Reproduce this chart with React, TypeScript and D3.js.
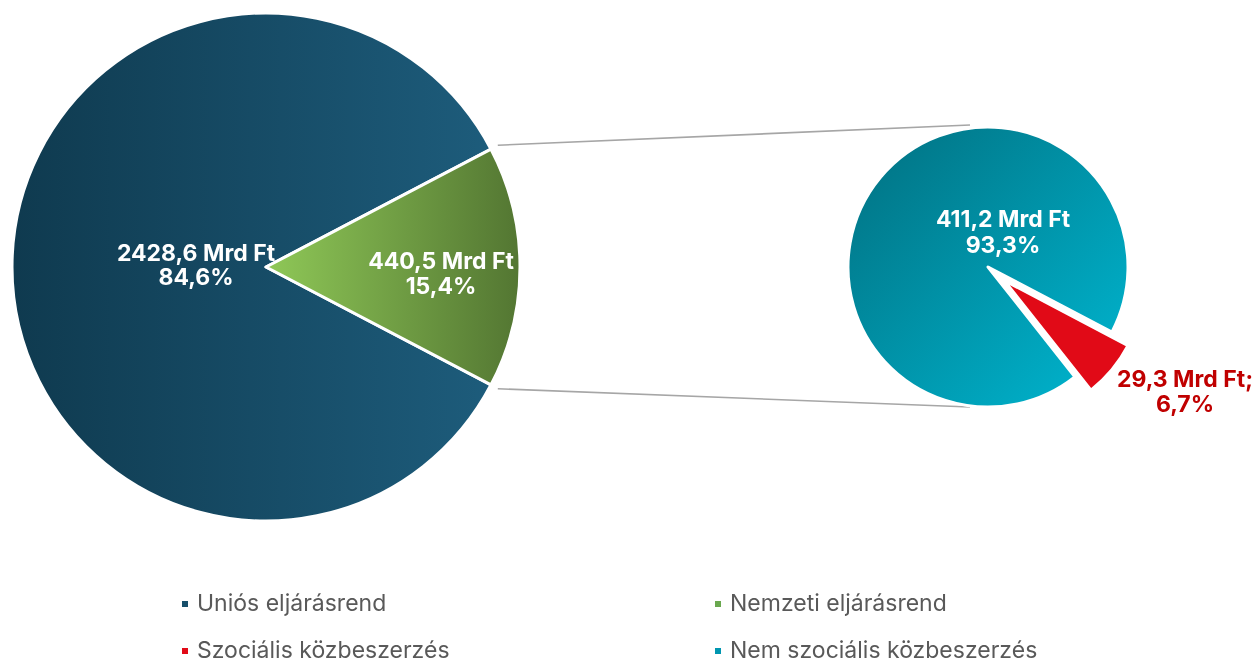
import React from "react";
import * as d3 from "d3";

const mainCategories = ["Uniós eljárásrend", "Nemzeti eljárásrend"];
const mainValues = [2428.6, 440.5];
const mainLabels = ["2428,6 Mrd Ft", "440,5 Mrd Ft"];
const mainPercents = ["84,6%", "15,4%"];

const subCategories = ["Nem szociális közbeszerzés", "Szociális közbeszerzés"];
const subValues = [411.2, 29.3];
const subLabels = ["411,2 Mrd Ft", "29,3 Mrd Ft;"];
const subPercents = ["93,3%", "6,7%"];

const legendItems = ["Uniós eljárásrend", "Nemzeti eljárásrend", "Szociális közbeszerzés", "Nem szociális közbeszerzés"];
const legendColors = ["#174f6b", "#6aa84f", "#e10a17", "#0096b0"];

const W = 1256, H = 663;
const FONT = "Inter, 'Noto Sans', sans-serif";

function TwoLine({ x, y, dy, lines, fill, size }: { x: number; y: number; dy: number; lines: string[]; fill: string; size: number }) {
  return (
    <text x={x} y={y} textAnchor="middle" fill={fill} fontWeight={700} fontSize={size}>
      <tspan x={x} y={y}>{lines[0]}</tspan>
      <tspan x={x} dy={dy}>{lines[1]}</tspan>
    </text>
  );
}

export default function App() {
  // main pie
  const cx = 266, cy = 267, r = 254;
  const mainTotal = d3.sum(mainValues);
  const greenSpan = (mainValues[1] / mainTotal) * 2 * Math.PI;
  const greenStart = Math.PI / 2 - greenSpan / 2;
  const mainPie = d3.pie<number>().sort(null).startAngle(greenStart + greenSpan).endAngle(greenStart + greenSpan + 2 * Math.PI);
  const mainArcs = mainPie(mainValues);
  const arcMain = d3.arc<d3.PieArcDatum<number>>().innerRadius(0).outerRadius(r);

  // sub pie
  const sx = 988, sy = 267, sr = 140;
  const subTotal = d3.sum(subValues);
  const redSpan = (subValues[1] / subTotal) * 2 * Math.PI;
  const redMid = Math.PI / 2 + (39.7 * Math.PI) / 180;
  const redStart = redMid - redSpan / 2;
  const subPie = d3.pie<number>().sort(null).startAngle(redStart + redSpan).endAngle(redStart + redSpan + 2 * Math.PI);
  const subArcs = subPie(subValues);
  const arcSub = d3.arc<d3.PieArcDatum<number>>().innerRadius(0).outerRadius(sr);
  const explode = 21;

  // connector lines
  const gTop = [cx + (r + 2) * Math.sin(greenStart), cy - (r + 2) * Math.cos(greenStart)];
  const gBot = [cx + (r + 2) * Math.sin(greenStart + greenSpan), cy - (r + 2) * Math.cos(greenStart + greenSpan)];
  const lineTop = [[gTop[0] + 5, gTop[1] - 3], [sx - 18, sy - 142]];
  const lineBot = [[gBot[0] + 5, gBot[1] + 3], [sx - 18, sy + 140]];

  const legendX = [182, 715];
  const legendY = [604, 651];
  const lblSize = 23;

  return (
    <div style={{ position: "fixed", left: 0, top: 0 }}>
      <svg width={W} height={H} style={{ display: "block" }} fontFamily={FONT}>
        <defs>
          <linearGradient id="gBlue" gradientUnits="userSpaceOnUse" x1={-r} y1={0} x2={r} y2={0}>
            <stop offset="0" stopColor="#0f3a4f" />
            <stop offset="1" stopColor="#1e5e7e" />
          </linearGradient>
          <linearGradient id="gGreen" gradientUnits="userSpaceOnUse" x1={0} y1={0} x2={r} y2={0}>
            <stop offset="0" stopColor="#8fc857" />
            <stop offset="1" stopColor="#537632" />
          </linearGradient>
          <linearGradient id="gTeal" gradientUnits="userSpaceOnUse" x1={-sr * 0.7} y1={-sr * 0.7} x2={sr * 0.7} y2={sr * 0.7}>
            <stop offset="0" stopColor="#017a8c" />
            <stop offset="1" stopColor="#00adc6" />
          </linearGradient>
        </defs>

        <line x1={lineTop[0][0]} y1={lineTop[0][1]} x2={lineTop[1][0]} y2={lineTop[1][1]} stroke="#a6a6a6" strokeWidth={1.6} />
        <line x1={lineBot[0][0]} y1={lineBot[0][1]} x2={lineBot[1][0]} y2={lineBot[1][1]} stroke="#a6a6a6" strokeWidth={1.6} />

        <g transform={`translate(${cx},${cy})`}>
          {mainArcs.map((a, i) => (
            <path key={i} d={arcMain(a) || ""} fill={i === 0 ? "url(#gBlue)" : "url(#gGreen)"} stroke="#fff" strokeWidth={3} strokeLinejoin="round" />
          ))}
        </g>

        <g>
          {subArcs.map((a, i) => {
            const mid = (a.startAngle + a.endAngle) / 2;
            const off = i === 1 ? explode : 0;
            const tx = sx + off * Math.sin(mid);
            const ty = sy - off * Math.cos(mid);
            return (
              <path key={i} d={arcSub(a) || ""} transform={`translate(${tx},${ty})`}
                fill={i === 0 ? "url(#gTeal)" : "#e10a17"} stroke="#fff" strokeWidth={3} strokeLinejoin="round" />
            );
          })}
        </g>

        {/* labels */}
        <TwoLine x={196} y={261} dy={24} lines={[mainLabels[0], mainPercents[0]]} fill="#fff" size={lblSize} />
        <TwoLine x={441} y={269} dy={25} lines={[mainLabels[1], mainPercents[1]]} fill="#fff" size={lblSize} />
        <TwoLine x={1003} y={227} dy={26} lines={[subLabels[0], subPercents[0]]} fill="#fff" size={lblSize} />
        <TwoLine x={1185} y={387} dy={25} lines={[subLabels[1], subPercents[1]]} fill="#c00000" size={lblSize} />

        {/* legend */}
        {legendItems.map((name, i) => {
          const col = i % 2, row = Math.floor(i / 2);
          const x = legendX[col], y = legendY[row];
          return (
            <g key={name}>
              <rect x={x} y={y - 3} width={6} height={6} fill={legendColors[i]} />
              <text x={x + 15} y={y + 7} fill="#595959" fontSize={23}>{name}</text>
            </g>
          );
        })}
      </svg>
    </div>
  );
}
